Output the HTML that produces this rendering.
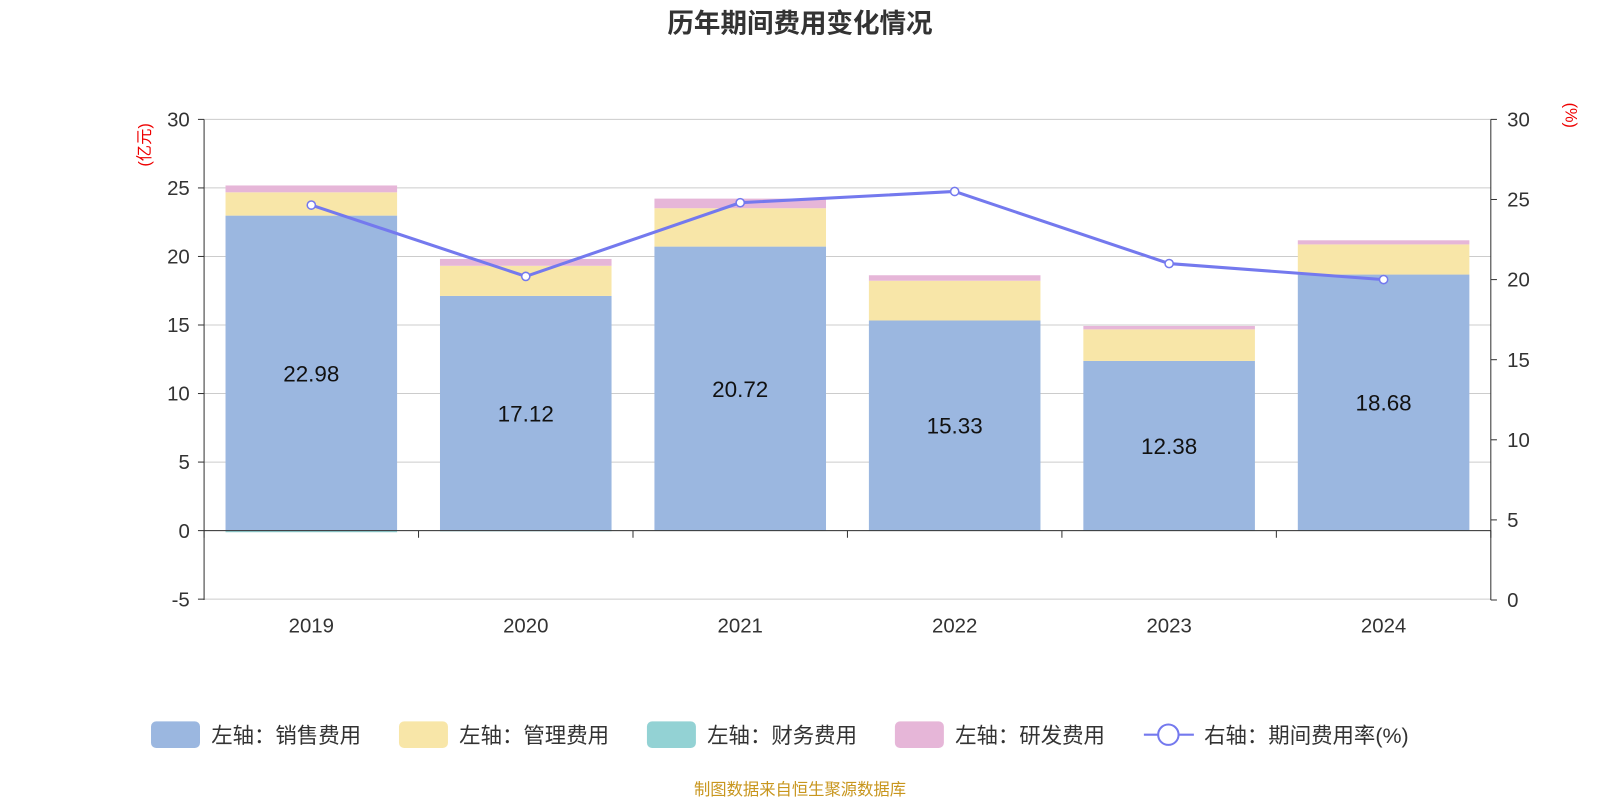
<!DOCTYPE html>
<html><head><meta charset="utf-8"><style>
body{margin:0;background:#fff;width:1600px;height:800px;overflow:hidden;font-family:"Liberation Sans","Noto Sans CJK SC",sans-serif;}
</style></head><body>
<svg id="c" width="1600" height="800" viewBox="0 0 1568 784" xmlns="http://www.w3.org/2000/svg" font-family="'Liberation Sans','Noto Sans CJK SC',sans-serif"></svg>
<script>
const categories=["2019","2020","2021","2022","2023","2024"];
const sales=[22.98,17.12,20.72,15.33,12.38,18.68];
const admin=[1.7,2.2,2.8,2.9,2.3,2.2];
const finance=[-0.12,-0.05,0.02,0.02,0.02,0.02];
const rnd=[0.5,0.5,0.7,0.4,0.25,0.3];
const rate=[24.65,20.2,24.8,25.5,21.0,20.0];
const leftTicks=[-5,0,5,10,15,20,25,30];
const rightTicks=[0,5,10,15,20,25,30];
const svg=document.getElementById('c');
const NS="http://www.w3.org/2000/svg";
function el(t,a,p){const e=document.createElementNS(NS,t);for(const k in a)e.setAttribute(k,a[k]);(p||svg).appendChild(e);return e;}
const x0=200,x1=1461,bw=(x1-x0)/categories.length;
const yL=v=>520-v*(403/30);
const yR=v=>588-v*(471/30);
const xc=i=>x0+bw*(i+0.5);
leftTicks.forEach(t=>{
 const g=el('line',{x1:x0,x2:x1,y1:yL(t),y2:yL(t),stroke:'#ccc','stroke-width':1});
 
 const tx=el('text',{x:186,y:yL(t)+7,'text-anchor':'end','font-size':20,fill:'#333'});tx.textContent=t;
 
 el('line',{x1:x0-6,x2:x0,y1:yL(t),y2:yL(t),stroke:'#333'});
});
rightTicks.forEach(t=>{
 const tx=el('text',{x:1477,y:yR(t)+7,'font-size':20,fill:'#333'});tx.textContent=t;
 
 el('line',{x1:x1,x2:x1+6,y1:yR(t),y2:yR(t),stroke:'#333'});
});
el('line',{x1:x0,x2:x0,y1:117,y2:588,stroke:'#333'});
el('line',{x1:x1,x2:x1,y1:117,y2:588,stroke:'#333'});
categories.forEach((c,i)=>{
 const w=bw*0.8,x=xc(i)-w/2;
 const seg=(from,val,col,name)=>{const a=yL(from),b=yL(from+val);const r=el('rect',{x:x,y:Math.min(a,b),width:w,height:Math.max(Math.abs(a-b),0.5),fill:col});
  };
 seg(0,sales[i],'#9bb7e0','bar-sales-'+c);
 seg(sales[i],admin[i],'#f8e6a8','bar-admin-'+c);
 seg(sales[i]+admin[i],rnd[i],'#e6b6d8','bar-rnd-'+c);
 seg(0,finance[i],'#93d2d4','bar-finance-'+c);
 const lb=el('text',{x:xc(i),y:yL(sales[i]/2)+8,'text-anchor':'middle','font-size':22,fill:'#111'});lb.textContent=sales[i].toFixed(2);
 
 const tl=el('text',{x:xc(i),y:620,'text-anchor':'middle','font-size':20,fill:'#333'});tl.textContent=c;
 
});
el('line',{x1:x0,x2:x1,y1:yL(0),y2:yL(0),stroke:'#333'});
for(let i=0;i<=categories.length;i++)el('line',{x1:x0+bw*i,x2:x0+bw*i,y1:520,y2:527,stroke:'#333'});
const pl=el('polyline',{points:rate.map((v,i)=>xc(i)+','+yR(v)).join(' '),fill:'none',stroke:'#7479ee','stroke-width':3});

rate.forEach((v,i)=>{const p=el('circle',{cx:xc(i),cy:yR(v),r:4,fill:'#fff',stroke:'#7479ee','stroke-width':1.5});
 });
const t1=el('text',{transform:'translate(147,142) rotate(-90)','text-anchor':'middle','font-size':16,fill:'#e00'});t1.textContent='(亿元)';

const t2=el('text',{transform:'translate(1534,113) rotate(90)','text-anchor':'middle','font-size':16,fill:'#e00'});t2.textContent='(%)';

const tt=el('text',{x:784,y:32,'text-anchor':'middle','font-size':26,'font-weight':'bold',fill:'#333'});tt.textContent='历年期间费用变化情况';

const leg=[['#9bb7e0','左轴：销售费用',148],['#f8e6a8','左轴：管理费用',391],['#93d2d4','左轴：财务费用',634],['#e6b6d8','左轴：研发费用',877]];
leg.forEach(l=>{const r=el('rect',{x:l[2],y:707,width:48,height:26,rx:5,fill:l[0]});
 
 const t=el('text',{x:l[2]+59,y:728,'font-size':21,fill:'#333'});t.textContent=l[1];
 });
el('line',{x1:1121,x2:1170,y1:720,y2:720,stroke:'#7479ee','stroke-width':2});
el('circle',{cx:1145,cy:720,r:10,fill:'#fff',stroke:'#7479ee','stroke-width':2});
const lt=el('text',{x:1180,y:728,'font-size':21,fill:'#333'});lt.textContent='右轴：期间费用率(%)';

const ft=el('text',{x:784,y:779,'text-anchor':'middle','font-size':16,fill:'#c8961e'});ft.textContent='制图数据来自恒生聚源数据库';

</script>
</body></html>
